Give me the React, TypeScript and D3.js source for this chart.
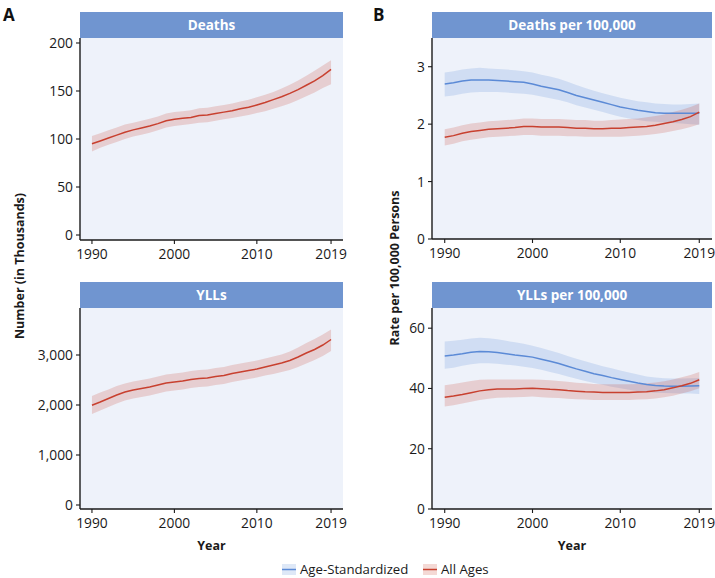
import React from "react";
import * as d3 from "d3";

const years = d3.range(1990, 2020);

// Panel A top: Deaths (thousands), all ages
const deathsVal = [95, 98, 101, 104, 107, 109.5, 111.5, 113.5, 116, 119, 120.5, 121.5, 122.5, 124.5, 125, 126.5, 128, 129.5, 131.5, 133, 135.5, 138, 141, 144, 147.5, 151.5, 156, 160.5, 166, 172.5];
const deathsLo = [87, 91, 94, 97, 100, 102.5, 104.5, 106.5, 109, 112, 113.5, 114.5, 115.5, 117, 117.5, 119, 120.5, 122, 123.5, 125, 127, 129, 131.5, 134, 137, 140.5, 144.5, 148.5, 153, 157];
const deathsHi = [103, 106, 109, 112, 115, 117, 119, 121, 123.5, 126.5, 128, 129, 130, 132, 132.5, 134, 135.5, 137, 139, 141, 143.5, 146, 149, 152.5, 156.5, 161, 166, 171, 176.5, 182];

// Panel A bottom: YLLs (thousands), all ages
const yllVal = [1995, 2060, 2130, 2200, 2260, 2300, 2330, 2360, 2400, 2440, 2460, 2480, 2510, 2530, 2540, 2570, 2590, 2630, 2660, 2690, 2720, 2760, 2800, 2840, 2890, 2960, 3040, 3110, 3200, 3310];
const yllLo = [1820, 1890, 1960, 2030, 2090, 2130, 2160, 2190, 2230, 2270, 2290, 2310, 2340, 2360, 2370, 2400, 2420, 2460, 2490, 2520, 2550, 2590, 2620, 2660, 2700, 2760, 2830, 2900, 2980, 3080];
const yllHi = [2180, 2250, 2310, 2380, 2430, 2470, 2500, 2530, 2570, 2610, 2630, 2650, 2680, 2700, 2710, 2740, 2760, 2800, 2830, 2860, 2890, 2930, 2970, 3010, 3070, 3150, 3240, 3320, 3410, 3510];

// Panel B top: deaths per 100,000
const drAsVal = [2.70, 2.72, 2.75, 2.77, 2.77, 2.77, 2.76, 2.75, 2.74, 2.73, 2.70, 2.66, 2.63, 2.60, 2.55, 2.50, 2.46, 2.42, 2.38, 2.34, 2.30, 2.27, 2.24, 2.22, 2.20, 2.19, 2.19, 2.19, 2.19, 2.19];
const drAsLo = [2.48, 2.50, 2.53, 2.55, 2.56, 2.56, 2.56, 2.55, 2.54, 2.53, 2.51, 2.48, 2.45, 2.42, 2.38, 2.33, 2.29, 2.25, 2.21, 2.17, 2.13, 2.10, 2.07, 2.05, 2.04, 2.03, 2.02, 2.01, 2.00, 1.99];
const drAsHi = [2.90, 2.92, 2.95, 2.97, 2.98, 2.97, 2.96, 2.95, 2.94, 2.92, 2.90, 2.86, 2.83, 2.79, 2.74, 2.68, 2.63, 2.58, 2.54, 2.50, 2.46, 2.43, 2.40, 2.38, 2.36, 2.35, 2.34, 2.34, 2.35, 2.36];
const drAllVal = [1.77, 1.80, 1.84, 1.87, 1.89, 1.91, 1.92, 1.93, 1.94, 1.96, 1.96, 1.95, 1.95, 1.95, 1.94, 1.93, 1.93, 1.92, 1.92, 1.93, 1.93, 1.94, 1.95, 1.96, 1.98, 2.01, 2.04, 2.08, 2.13, 2.21];
const drAllLo = [1.63, 1.66, 1.70, 1.73, 1.75, 1.77, 1.78, 1.79, 1.80, 1.81, 1.81, 1.80, 1.80, 1.80, 1.79, 1.79, 1.78, 1.78, 1.78, 1.78, 1.78, 1.79, 1.80, 1.81, 1.83, 1.85, 1.88, 1.91, 1.95, 2.00];
const drAllHi = [1.91, 1.94, 1.98, 2.01, 2.03, 2.05, 2.06, 2.07, 2.08, 2.10, 2.10, 2.09, 2.09, 2.09, 2.08, 2.07, 2.07, 2.06, 2.06, 2.07, 2.08, 2.09, 2.10, 2.12, 2.14, 2.17, 2.21, 2.25, 2.30, 2.36];

// Panel B bottom: YLLs per 100,000
const yrAsVal = [50.8, 51.1, 51.5, 52.0, 52.3, 52.2, 51.9, 51.5, 51.1, 50.8, 50.4, 49.7, 49.0, 48.3, 47.4, 46.5, 45.7, 44.9, 44.3, 43.6, 43.0, 42.4, 41.8, 41.3, 41.0, 40.8, 40.7, 40.7, 40.8, 40.9];
const yrAsLo = [46.5, 46.9, 47.5, 48.0, 48.4, 48.4, 48.2, 47.9, 47.6, 47.2, 46.8, 46.2, 45.5, 44.8, 44.0, 43.2, 42.5, 41.8, 41.2, 40.6, 40.1, 39.6, 39.1, 38.8, 38.6, 38.5, 38.4, 38.3, 38.3, 38.2];
const yrAsHi = [55.6, 55.8, 56.2, 56.6, 56.8, 56.7, 56.3, 55.8, 55.3, 54.8, 54.2, 53.4, 52.6, 51.8, 50.8, 49.9, 49.0, 48.2, 47.4, 46.7, 46.0, 45.3, 44.6, 44.0, 43.6, 43.4, 43.3, 43.3, 43.4, 43.5];
const yrAllVal = [37.1, 37.5, 38.0, 38.6, 39.2, 39.6, 39.8, 39.8, 39.8, 40.0, 40.1, 39.9, 39.7, 39.6, 39.3, 39.1, 38.9, 38.8, 38.7, 38.7, 38.7, 38.7, 38.8, 38.9, 39.2, 39.6, 40.2, 40.9, 41.7, 42.9];
const yrAllLo = [34.0, 34.4, 35.0, 35.6, 36.2, 36.6, 36.9, 37.0, 37.1, 37.2, 37.3, 37.1, 36.9, 36.8, 36.6, 36.4, 36.3, 36.2, 36.2, 36.2, 36.2, 36.2, 36.3, 36.4, 36.7, 37.1, 37.6, 38.3, 39.1, 40.1];
const yrAllHi = [41.1, 41.5, 42.0, 42.5, 42.9, 43.0, 43.0, 43.0, 43.0, 43.0, 43.0, 42.9, 42.7, 42.5, 42.2, 41.9, 41.7, 41.5, 41.4, 41.4, 41.4, 41.4, 41.5, 41.7, 42.0, 42.4, 43.0, 43.7, 44.5, 45.5];

const xTicks = [1990, 2000, 2010, 2019];
const ticksDeaths = [0, 50, 100, 150, 200];
const ticksYll = [0, 1000, 2000, 3000];
const ticksDr = [0, 1, 2, 3];
const ticksYr = [0, 20, 40, 60];

const FONT = "'Open Sans', 'Noto Sans', sans-serif";
const RED = "#c8402f";
const BLUE = "#5b8ad6";
const STRIP = "#7095d0";
const BG = "#eef2fa";
const INK = "#1a1a1a";

type Series = { val: number[]; lo: number[]; hi: number[]; color: string };

function Panel(props: {
  x0: number; x1: number; y0: number; y1: number;
  title: string; domain: [number, number]; ticks: number[];
  series: Series[]; fmt: (v: number) => string; yearLabel?: boolean;
}) {
  const { x0, x1, y0, y1, title, domain, ticks, series, fmt, yearLabel } = props;
  const x = d3.scaleLinear().domain([1988.55, 2020.45]).range([x0, x1]);
  const y = d3.scaleLinear().domain(domain).range([y1, y0]);
  return (
    <g fontFamily={FONT}>
      <rect x={x0} y={y0 - 26} width={x1 - x0} height={26} fill={STRIP} />
      <text x={(x0 + x1) / 2} y={y0 - 8.5} textAnchor="middle" fill="#fff" fontWeight="bold" fontSize={13.5}>{title}</text>
      <rect x={x0} y={y0} width={x1 - x0} height={y1 - y0} fill={BG} />
      {series.map((s, k) => {
        const a = d3.area<number>()
          .x((_, i) => x(years[i]))
          .y0((_, i) => y(s.lo[i]))
          .y1((_, i) => y(s.hi[i]));
        return <path key={"a" + k} d={a(s.val) || ""} fill={s.color} fillOpacity={0.2} />;
      })}
      {series.map((s, k) => {
        const l = d3.line<number>().x((_, i) => x(years[i])).y((d) => y(d));
        return <path key={"l" + k} d={l(s.val) || ""} fill="none" stroke={s.color} strokeWidth={1.5} />;
      })}
      <line x1={x0} x2={x0} y1={y0} y2={y1} stroke={INK} strokeWidth={1.4} />
      <line x1={x0} x2={x1} y1={y1} y2={y1} stroke={INK} strokeWidth={1.4} />
      {ticks.map((t) => (
        <g key={"y" + t}>
          <line x1={x0 - 4} x2={x0} y1={y(t)} y2={y(t)} stroke={INK} strokeWidth={1.1} />
          <text x={x0 - 7} y={y(t)} dy="0.36em" textAnchor="end" fontSize={13.8} fill={INK}>{fmt(t)}</text>
        </g>
      ))}
      {xTicks.map((t) => (
        <g key={"x" + t}>
          <line x1={x(t)} x2={x(t)} y1={y1} y2={y1 + 4} stroke={INK} strokeWidth={1.1} />
          <text x={x(t)} y={y1 + 19} textAnchor="middle" fontSize={13.8} fill={INK}>{t}</text>
        </g>
      ))}
      {yearLabel && (
        <text x={(x0 + x1) / 2} y={y1 + 41} textAnchor="middle" fontSize={12.5} fontWeight="bold" fill={INK}>Year</text>
      )}
    </g>
  );
}

export default function App() {
  const fmtComma = d3.format(",");
  return (
    <svg width={715} height={578} style={{ position: "absolute", left: 0, top: 0 }}>
      <rect width={715} height={578} fill="#fff" />
      <text x={3} y={21} fontFamily={FONT} fontWeight="bold" fontSize={17} fill="#111">A</text>
      <text x={373} y={21} fontFamily={FONT} fontWeight="bold" fontSize={17} fill="#111">B</text>
      <Panel x0={80} x1={343} y0={38} y1={240} title="Deaths" domain={[-5.2, 205.2]} ticks={ticksDeaths}
        series={[{ val: deathsVal, lo: deathsLo, hi: deathsHi, color: RED }]} fmt={(v) => String(v)} />
      <Panel x0={80} x1={343} y0={308} y1={509} title="YLLs" domain={[-80, 3940]} ticks={ticksYll}
        series={[{ val: yllVal, lo: yllLo, hi: yllHi, color: RED }]} fmt={fmtComma} yearLabel />
      <Panel x0={432} x1={712} y0={38} y1={239} title="Deaths per 100,000" domain={[0, 3.5]} ticks={ticksDr}
        series={[{ val: drAsVal, lo: drAsLo, hi: drAsHi, color: BLUE }, { val: drAllVal, lo: drAllLo, hi: drAllHi, color: RED }]} fmt={(v) => String(v)} />
      <Panel x0={432} x1={712} y0={308} y1={509} title="YLLs per 100,000" domain={[0, 66.7]} ticks={ticksYr}
        series={[{ val: yrAsVal, lo: yrAsLo, hi: yrAsHi, color: BLUE }, { val: yrAllVal, lo: yrAllLo, hi: yrAllHi, color: RED }]} fmt={(v) => String(v)} yearLabel />
      <text transform="translate(24,266) rotate(-90)" textAnchor="middle" fontFamily={FONT} fontWeight="bold" fontSize={12.5} fill={INK}>Number (in Thousands)</text>
      <text transform="translate(399,268) rotate(-90)" textAnchor="middle" fontFamily={FONT} fontWeight="bold" fontSize={12.5} fill={INK}>Rate per 100,000 Persons</text>
      <g fontFamily={FONT} fontSize={13.2} fill={INK}>
        <rect x={282} y={564} width={14} height={11} fill={BLUE} fillOpacity={0.2} />
        <line x1={282} x2={296} y1={569.5} y2={569.5} stroke={BLUE} strokeWidth={1.5} />
        <text x={300} y={574}>Age-Standardized</text>
        <rect x={423} y={564} width={14} height={11} fill={RED} fillOpacity={0.2} />
        <line x1={423} x2={437} y1={569.5} y2={569.5} stroke={RED} strokeWidth={1.5} />
        <text x={441} y={574}>All Ages</text>
      </g>
    </svg>
  );
}
